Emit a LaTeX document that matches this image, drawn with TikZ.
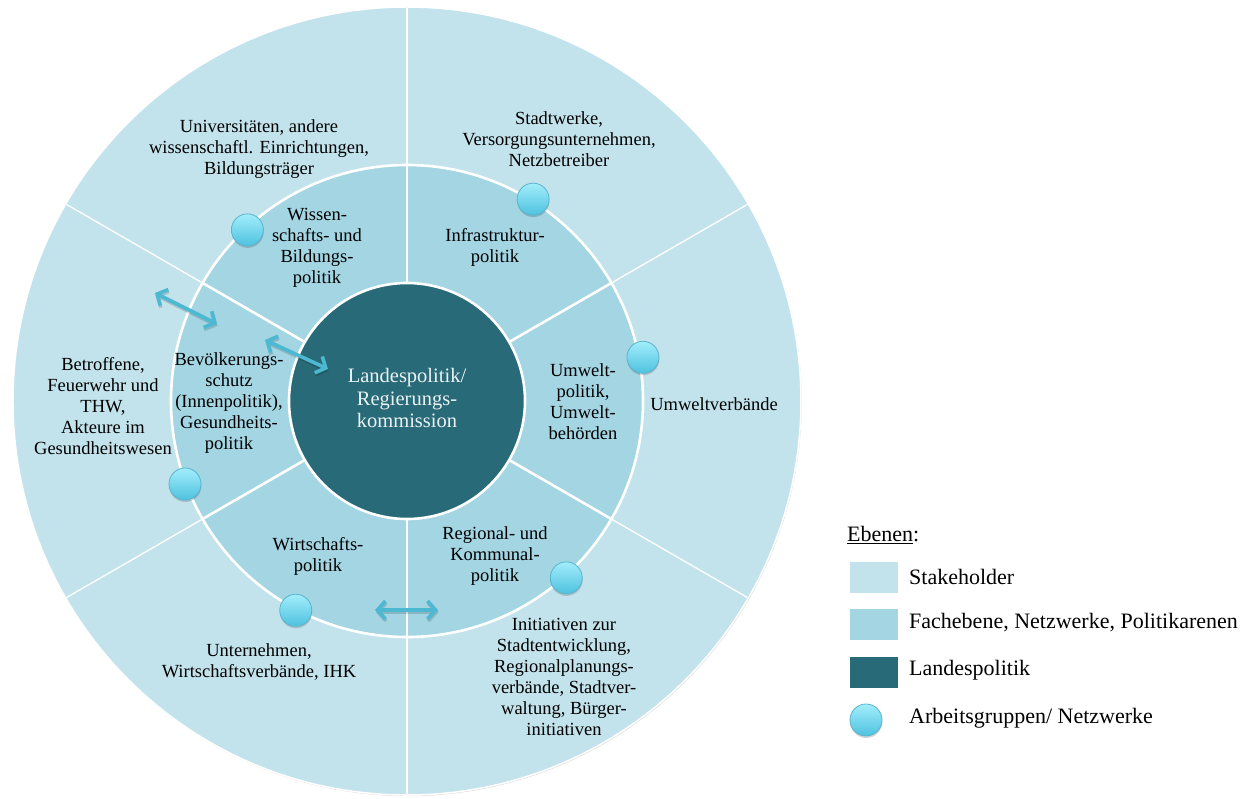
\documentclass[tikz,border=0pt]{standalone}
\usepackage{fontspec}
\setmainfont{Liberation Serif}
\usetikzlibrary{arrows.meta,shadows}
\definecolor{stake}{HTML}{C3E3EC}
\definecolor{fach}{HTML}{A3D5E3}
\definecolor{land}{HTML}{296A78}
\definecolor{arrowblue}{HTML}{4DB8D2}
\definecolor{balltop}{HTML}{A2EDFB}
\definecolor{ballbottom}{HTML}{4EC2DF}
\definecolor{ballrim}{HTML}{5AB4CC}
\definecolor{landtext}{HTML}{EAF2F4}
\begin{document}
\begin{tikzpicture}[x=1pt,y=1pt,
  lbl/.style={align=center, inner sep=0pt, text=black, font=\fontsize{18.5}{21}\selectfont},
  centerlbl/.style={align=center, inner sep=0pt, text=landtext, font=\fontsize{20.5}{22.5}\selectfont},
  legendlbl/.style={anchor=west, inner sep=0pt, font=\fontsize{22}{26}\selectfont},
  ball/.style={circle, minimum size=32pt, inner sep=0pt, top color=balltop, bottom color=ballbottom,
    draw=ballrim, line width=0.8pt,
    drop shadow={shadow xshift=0.3pt, shadow yshift=-2pt, opacity=0.16, fill=black}},
  swatch/.style={draw=none, minimum width=48pt, minimum height=31pt, inner sep=0pt, anchor=north west},
  flow/.style={arrowblue, line width=3.6pt,
    {Straight Barb[length=8pt,width=18pt]}-{Straight Barb[length=8pt,width=18pt]}},
  flowshade/.style={black, opacity=0.15, line width=3.6pt,
    {Straight Barb[length=8pt,width=18pt]}-{Straight Barb[length=8pt,width=18pt]}},
  ringline/.style={white, line width=2.6pt},
  outerline/.style={white, line width=1.3pt}
]
\useasboundingbox (-407,-397) rectangle (853,401);

% rings: stakeholders, departments, state government
\fill[stake, drop shadow={shadow xshift=0.8pt, shadow yshift=-1.2pt, opacity=0.25}] (0,0) circle (394);
\draw[white, line width=1.5pt] (0,0) circle (394);
\fill[fach] (0,0) circle (236);
\fill[land] (0,0) circle (118);

% sector borders
\foreach \a in {90,30,-30,-90,-150,150}{
  \draw[outerline] (\a:236) -- (\a:393);
  \draw[ringline] (\a:118) -- (\a:236);
}
\draw[ringline] (0,0) circle (236);
\draw[ringline] (0,0) circle (118);

% centre
\node[centerlbl] (land) at (0,3) {Landespolitik/\\Regierungs-\\kommission};

% department ring
\node[lbl] (wiss) at (-90,153) {Wissen-\\schafts- und\\Bildungs-\\politik};
\node[lbl] (infra) at (88,154) {Infrastruktur-\\politik};
\node[lbl] (umw) at (176,-1) {Umwelt-\\politik,\\Umwelt-\\behörden};
\node[lbl] (regio) at (88,-155) {Regional- und\\Kommunal-\\politik};
\node[lbl] (wirt) at (-89,-155) {Wirtschafts-\\politik};
\node[lbl] (bev) at (-178,-2) {Bevölkerungs-\\schutz\\(Innenpolitik),\\Gesundheits-\\politik};

% stakeholder ring
\node[lbl] (uni) at (-148,252) {Universitäten, andere\\wissenschaftl. Einrichtungen,\\Bildungsträger};
\node[lbl] (stadtw) at (152,262) {Stadtwerke,\\Versorgungsunternehmen,\\Netzbetreiber};
\node[lbl] (umwv) at (307,-3) {Umweltverbände};
\node[lbl] (init) at (157,-275.5) {Initiativen zur\\Stadtentwicklung,\\Regionalplanungs-\\verbände, Stadtver-\\waltung, Bürger-\\initiativen};
\node[lbl] (unt) at (-148,-261) {Unternehmen,\\Wirtschaftsverbände, IHK};
\node[lbl] (betr) at (-304,-5) {Betroffene,\\Feuerwehr und\\THW,\\Akteure im\\Gesundheitswesen};

% exchange arrows
\coordinate (a1s) at (-252,108);
\coordinate (a1e) at (-190,77);
\coordinate (a2s) at (-142,61);
\coordinate (a2e) at (-79,32);
\coordinate (a3s) at (-32,-209);
\coordinate (a3e) at (31,-209);
\foreach \s/\e in {a1s/a1e, a2s/a2e, a3s/a3e}{
  \draw[flowshade] ([shift={(0.6,-2)}]\s) -- ([shift={(0.6,-2)}]\e);
  \draw[flow] (\s) -- (\e);
}

% working groups
\node[ball] (g1) at (133:234) {};
\node[ball] (g2) at (58:238) {};
\node[ball] (g3) at (10.5:240) {};
\node[ball] (g4) at (-48:238) {};
\node[ball] (g5) at (-118:237) {};
\node[ball] (g6) at (200.5:237) {};

% legend
\node[legendlbl] (leg) at (440,-134) {\underline{Ebenen}:};
\node[swatch, fill=stake] (s1) at (443,-161) {};
\node[swatch, fill=fach] (s2) at (443,-208) {};
\node[swatch, fill=land] (s3) at (443,-256) {};
\node[ball] (s4) at (459,-319) {};
\node[legendlbl] (t1) at (502,-176) {Stakeholder};
\node[legendlbl] (t2) at (502,-222) {Fachebene, Netzwerke, Politikarenen};
\node[legendlbl] (t3) at (502,-269) {Landespolitik};
\node[legendlbl] (t4) at (502,-317) {Arbeitsgruppen/ Netzwerke};
\end{tikzpicture}
\end{document}
